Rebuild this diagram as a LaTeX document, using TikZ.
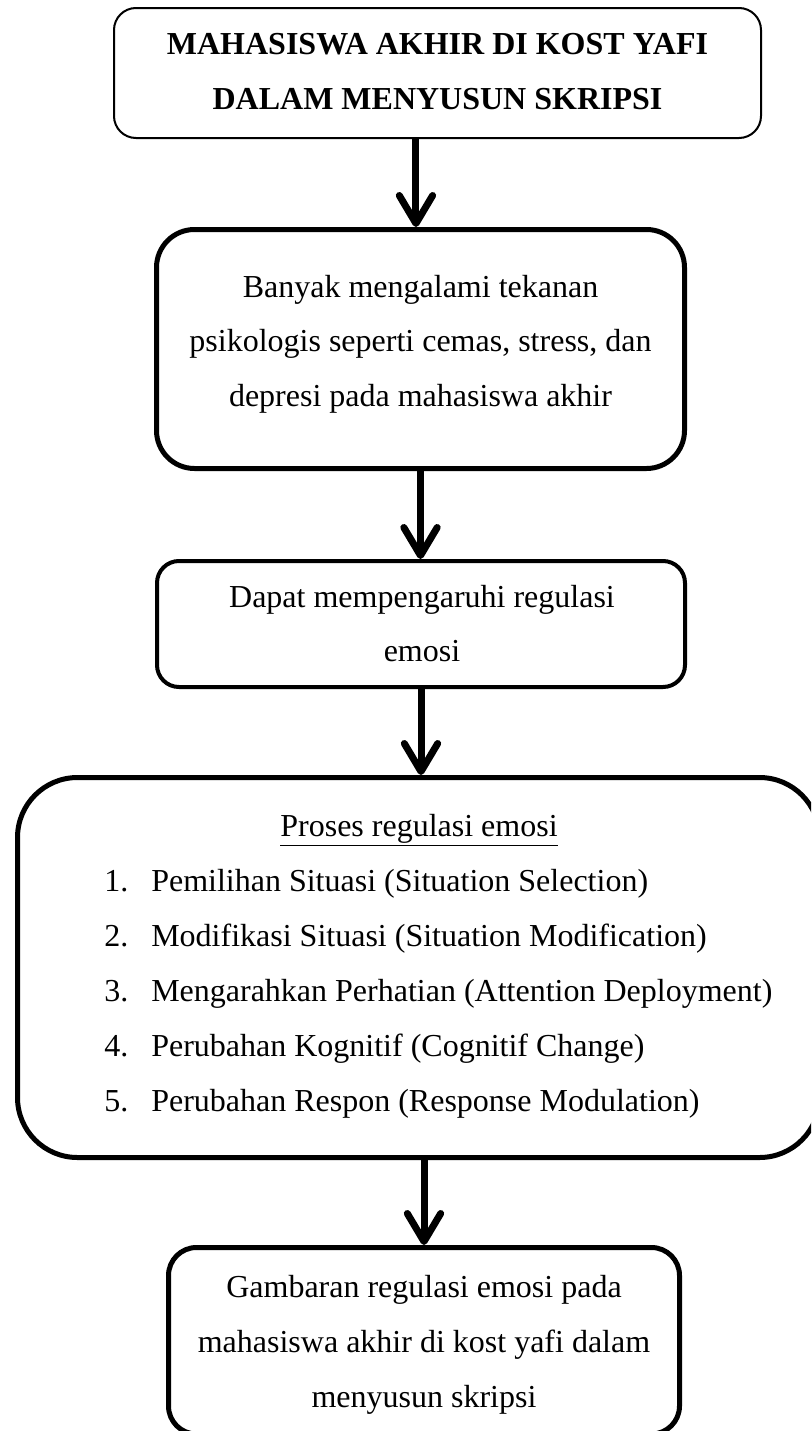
\documentclass[tikz,border=0pt]{standalone}
\usepackage{fontspec}
\setmainfont{Liberation Serif}
\usetikzlibrary{arrows.meta}
\begin{document}
\begin{tikzpicture}[x=0.75pt,y=-0.75pt,
  box/.style={draw=black, rectangle, inner sep=0pt, fill=white},
  txt/.style={inner sep=0pt, anchor=base, font=\fontsize{24pt}{41.25pt}\selectfont},
  btxt/.style={txt, font=\fontsize{24pt}{41.25pt}\selectfont\bfseries},
  ltxt/.style={txt, anchor=base west},
  arr/.style={draw=black, line width=5.25pt, -{Straight Barb[length=21pt,width=25pt,round]}}]
\useasboundingbox (0,0) rectangle (811,1431);
\clip (0,0) rectangle (811,1431);
\fill[white] (0,0) rectangle (811,1431);

% boxes
\node[box, line width=1.5pt, rounded corners=16.5pt, minimum width=485.25pt, minimum height=97.5pt] (b1) at (437.5,73) {};
\node[box, line width=3.75pt, rounded corners=28.5pt, minimum width=396pt, minimum height=179.25pt] (b2) at (420.5,349) {};
\node[box, line width=3pt, rounded corners=16.5pt, minimum width=396pt, minimum height=94.5pt] (b3) at (421,624) {};
\node[box, line width=3.75pt, rounded corners=45pt, minimum width=601.5pt, minimum height=285pt] (b4) at (418.5,967.5) {};
\node[box, line width=3.75pt, rounded corners=21pt, minimum width=383.25pt, minimum height=139.875pt] (b5) at (424,1340.75) {};

% texts
\node[btxt] (t1a) at (437.5,54.5) {MAHASISWA AKHIR DI KOST YAFI};
\node[btxt] (t1b) at (437.5,109.5) {DALAM MENYUSUN SKRIPSI};

\node[txt] (t2a) at (420.5,297) {Banyak mengalami tekanan};
\node[txt] (t2b) at (420.5,351.5) {psikologis seperti cemas, stress, dan};
\node[txt] (t2c) at (420.5,406) {depresi pada mahasiswa akhir};

\node[txt] (t3a) at (422,607.5) {Dapat mempengaruhi regulasi};
\node[txt] (t3b) at (422,661.5) {emosi};

\node[txt] (t4) at (419,836) {\underline{Proses regulasi emosi}};
\node[ltxt] (n1) at (104,891) {1.};
\node[ltxt] (i1) at (151,891) {Pemilihan Situasi (Situation Selection)};
\node[ltxt] (n2) at (104,946) {2.};
\node[ltxt] (i2) at (151,946) {Modifikasi Situasi (Situation Modification)};
\node[ltxt] (n3) at (104,1001) {3.};
\node[ltxt] (i3) at (151,1001) {Mengarahkan Perhatian (Attention Deployment)};
\node[ltxt] (n4) at (104,1056) {4.};
\node[ltxt] (i4) at (151,1056) {Perubahan Kognitif (Cognitif Change)};
\node[ltxt] (n5) at (104,1111) {5.};
\node[ltxt] (i5) at (151,1111) {Perubahan Respon (Response Modulation)};

\node[txt] (t5a) at (424,1297) {Gambaran regulasi emosi pada};
\node[txt] (t5b) at (424,1352) {mahasiswa akhir di kost yafi dalam};
\node[txt] (t5c) at (424,1407) {menyusun skripsi};

% arrows
\draw[arr] ([xshift=-3.4pt]b2.north |- b1.south) -- ([xshift=-3.4pt]b2.north);
\draw[arr] (b2.south) -- (b2.south |- b3.north);
\draw[arr] (b3.south) -- (b3.south |- b4.north);
\draw[arr] (b4.south -| b5.north) -- (b5.north);
\end{tikzpicture}
\end{document}
